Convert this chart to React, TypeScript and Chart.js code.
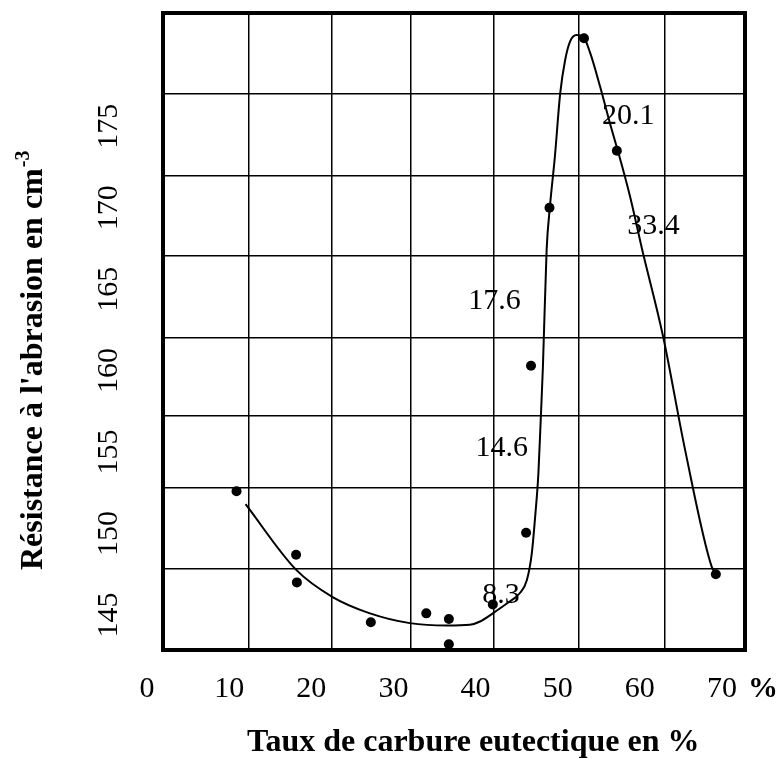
import React, { useEffect, useRef } from 'react';
import { Chart, registerables } from 'chart.js';

Chart.register(...registerables);

// Measured points (x: taux de carbure eutectique %, y: résistance à l'abrasion)
const pointX = [10.9, 18.15, 18.25, 27.25, 34.0, 36.75, 36.75, 42.1, 46.15, 46.75, 49.0, 53.2, 57.2, 69.25];
const pointY = [152.6, 148.7, 147.0, 144.55, 145.1, 144.75, 143.2, 145.65, 150.05, 160.3, 170.0, 180.4, 173.5, 147.5];

// Hand-drawn fitted curve
const curveX = [12.0, 18.2, 22.6, 27.15, 32.0, 36.5, 39.3, 40.55, 42.1, 43.8, 45.4, 46.25, 46.85, 47.25, 47.65, 47.95, 48.2, 48.65, 49.05, 49.65, 50.3, 50.9, 51.5, 52.3, 53.1, 53.95, 55.15, 56.35, 57.4, 58.8, 60.25, 62.85, 65.5, 68.75, 69.3];
const curveY = [151.8, 147.75, 146.1, 145.1, 144.5, 144.35, 144.4, 144.6, 145.1, 145.7, 146.35, 147.15, 148.8, 151.0, 153.7, 157.2, 160.25, 167.4, 170.05, 173.1, 177.0, 179.05, 180.2, 180.6, 180.5, 179.5, 177.45, 175.2, 173.35, 170.7, 167.5, 162.05, 155.15, 147.95, 147.5];

const xTickLabels = [0, 10, 20, 30, 40, 50, 60, 70];
const yTickLabels = [145, 150, 155, 160, 165, 170, 175];

const xGridValues = [12.36, 22.52, 32.05, 42.16, 52.53, 63.03];
const yGridValues = [147.82, 152.82, 157.24, 162.04, 167.05, 171.96, 177.01];

const noteLabels = ['20.1', '33.4', '17.6', '14.6', '8.3'];
const noteX = [58.6, 61.65, 42.3, 43.2, 43.1];
const noteY = [175.6, 168.85, 164.25, 155.25, 146.2];

const xMin = 1.95;
const xMax = 72.8;
const yMin = 142.85;
const yMax = 181.95;

const xTitle = 'Taux de carbure eutectique en %';
const yTitle = "Résistance à l'abrasion en cm";
const yTitleSup = '-3';
const xUnit = '%';

const FONT = "'Liberation Serif', 'Times New Roman', Times, serif";

const textPlugin = {
  id: 'textPlugin',
  afterDraw(chart: any) {
    const { ctx, chartArea: a, scales } = chart;
    const x = scales.x;
    const y = scales.y;
    ctx.save();
    ctx.strokeStyle = '#000';
    ctx.lineWidth = 4;
    ctx.strokeRect(a.left, a.top, a.right - a.left, a.bottom - a.top);

    ctx.fillStyle = '#000';
    ctx.font = `30px ${FONT}`;
    ctx.textAlign = 'center';
    ctx.textBaseline = 'alphabetic';
    xTickLabels.forEach((v) => {
      ctx.fillText(String(v), x.getPixelForValue(v), a.bottom + 47);
    });
    const last = xTickLabels[xTickLabels.length - 1];
    const lw = ctx.measureText(String(last)).width;
    ctx.font = `bold 30px ${FONT}`;
    ctx.textAlign = 'left';
    ctx.fillText(xUnit, x.getPixelForValue(last) + lw / 2 + 11, a.bottom + 47);

    ctx.font = `30px ${FONT}`;
    yTickLabels.forEach((v) => {
      ctx.save();
      ctx.translate(a.left - 46, y.getPixelForValue(v));
      ctx.rotate(-Math.PI / 2);
      ctx.textAlign = 'center';
      ctx.textBaseline = 'alphabetic';
      ctx.fillText(String(v), 0, 0);
      ctx.restore();
    });

    ctx.textAlign = 'center';
    ctx.textBaseline = 'middle';
    noteLabels.forEach((t, i) => {
      ctx.fillText(t, x.getPixelForValue(noteX[i]), y.getPixelForValue(noteY[i]));
    });

    ctx.font = `bold 32px ${FONT}`;
    ctx.textAlign = 'left';
    ctx.textBaseline = 'alphabetic';
    ctx.fillText(xTitle, a.left + 84, a.bottom + 101);

    ctx.save();
    ctx.translate(42, a.bottom - 80);
    ctx.rotate(-Math.PI / 2);
    ctx.fillText(yTitle, 0, 0);
    const tw = ctx.measureText(yTitle).width;
    ctx.font = `bold 20px ${FONT}`;
    ctx.fillText(yTitleSup, tw + 1, -13);
    ctx.restore();

    ctx.restore();
  },
};

export default function App() {
  const ref = useRef<HTMLCanvasElement | null>(null);
  useEffect(() => {
    document.body.style.margin = '0';
    const canvas = ref.current;
    if (!canvas) return;
    const points = pointX.map((v, i) => ({ x: v, y: pointY[i] }));
    const curve = curveX.map((v, i) => ({ x: v, y: curveY[i] }));
    const chart = new Chart(canvas, {
      type: 'line',
      data: {
        datasets: [
          {
            type: 'scatter',
            data: points,
            showLine: false,
            pointRadius: 5,
            pointBackgroundColor: '#000',
            pointBorderWidth: 0,
            backgroundColor: '#000',
            borderColor: '#000',
          } as any,
          {
            type: 'line',
            data: curve,
            borderColor: '#000',
            borderWidth: 2,
            pointRadius: 0,
            fill: false,
            cubicInterpolationMode: 'monotone',
          },
        ],
      },
      options: {
        responsive: false,
        animation: false,
        events: [],
        layout: { padding: { left: 163, top: 13, right: 35, bottom: 108 } },
        plugins: { legend: { display: false }, tooltip: { enabled: false } },
        scales: {
          x: {
            type: 'linear',
            min: xMin,
            max: xMax,
            afterBuildTicks: (s: any) => {
              s.ticks = xGridValues.map((v) => ({ value: v }));
            },
            afterFit: (s: any) => {
              s.height = 0;
            },
            ticks: { display: false },
            grid: { color: '#000', lineWidth: 1.5, drawTicks: false },
            border: { display: false },
          },
          y: {
            type: 'linear',
            min: yMin,
            max: yMax,
            afterBuildTicks: (s: any) => {
              s.ticks = yGridValues.map((v) => ({ value: v }));
            },
            afterFit: (s: any) => {
              s.width = 0;
            },
            ticks: { display: false },
            grid: { color: '#000', lineWidth: 1.5, drawTicks: false },
            border: { display: false },
          },
        },
      },
      plugins: [textPlugin],
    });
    return () => chart.destroy();
  }, []);
  return <canvas ref={ref} width={780} height={758} style={{ display: 'block' }} />;
}
